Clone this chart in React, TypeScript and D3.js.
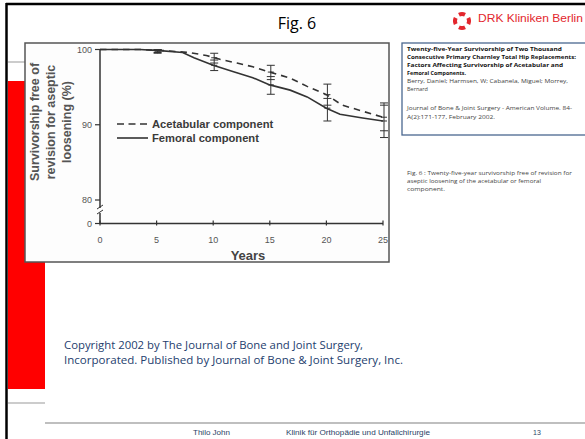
import * as d3 from 'd3';

// Kaplan-Meier style survivorship
const acetYears = [0, 3.5, 5.6, 7.9, 9.4, 10.6, 12.1, 13.5, 15, 16.8, 18.3, 20, 21.4, 23.2, 25];
const acetValues = [100, 100, 99.85, 99.6, 99.2, 98.7, 98.2, 97.7, 97.0, 96.2, 95.1, 94.0, 92.6, 91.8, 91.0];
const femYears = [0, 3.5, 5.3, 7.3, 8.3, 10, 11.8, 13.5, 15, 16.8, 18.3, 20, 21.2, 23.2, 25];
const femValues = [100, 100, 99.85, 99.6, 98.9, 97.9, 97.05, 96.25, 95.3, 94.6, 93.7, 92.2, 91.4, 90.9, 90.5];

// confidence intervals at 5-year marks
const ciYears = [5, 10, 15, 20, 25];
const acetPoint = [99.8, 98.9, 97.0, 94.0, 91.0];
const acetLow = [99.6, 98.2, 96.0, 92.6, 89.2];
const acetHigh = [100, 99.5, 97.9, 95.4, 92.9];
const femPoint = [99.8, 97.9, 95.3, 92.2, 90.5];
const femLow = [99.5, 97.2, 94.05, 90.5, 88.3];
const femHigh = [100, 98.6, 96.4, 93.5, 92.6];

const xTicks = [0, 5, 10, 15, 20, 25];
const yTicks = [100, 90, 80];
const yTitle = ['Survivorship free of', 'revision for aseptic', 'loosening (%)'];
const legendLabels = ['Acetabular component', 'Femoral component'];

const refLines = [
  { t: 'Twenty-five-Year Survivorship of Two Thousand', w: 155, bold: true },
  { t: 'Consecutive Primary Charnley Total Hip Replacements:', w: 169, bold: true },
  { t: 'Factors Affecting Survivorship of Acetabular and', w: 156, bold: true },
  { t: 'Femoral Components.', w: 59, bold: true },
  { t: 'Berry, Daniel; Harmsen, W; Cabanela, Miguel; Morrey,', w: 161, bold: false },
  { t: 'Bernard', w: 21, bold: false },
];
const journalLines = [
  { t: 'Journal of Bone & Joint Surgery - American Volume. 84-', w: 165 },
  { t: 'A(2):171-177, February 2002.', w: 88 },
];
const captionLines = [
  { t: 'Fig. 6 : Twenty-five-year survivorship free of revision for', w: 165 },
  { t: 'aseptic loosening of the acetabular or femoral', w: 134 },
  { t: 'component.', w: 38 },
];
const copyrightLines = [
  { t: 'Copyright 2002 by The Journal of Bone and Joint Surgery,', w: 299 },
  { t: 'Incorporated.  Published by Journal of Bone & Joint Surgery, Inc.', w: 339 },
];

const W = 585;
const H = 439;
const axisY = 223.5;
const chartFont = '"Liberation Sans", Arial, sans-serif';
const slideFont = '"Open Sans", "Liberation Sans", sans-serif';

export default function App() {
  const x = d3.scaleLinear().domain([0, 25]).range([100, 383]);
  const y = d3.scaleLinear().domain([80, 100]).range([200, 49.5]);

  const line = d3.line<[number, number]>()
    .x(d => x(d[0]))
    .y(d => y(d[1]));

  const acetPath = line(acetYears.map((t, i) => [t, acetValues[i]]) as [number, number][]) || '';
  const femPath = line(femYears.map((t, i) => [t, femValues[i]]) as [number, number][]) || '';

  const logoArc = d3.arc<any>().innerRadius(5).outerRadius(9);
  const logoParts = [0, 90, 180, 270].map(a => {
    const r = (a * Math.PI) / 180;
    return logoArc({ startAngle: r - 0.45, endAngle: r + 0.45 }) || '';
  });

  const ink = '#333';

  return (
    <svg width={W} height={H} style={{ position: 'absolute', left: 0, top: 0, background: '#fff' }}>
      {/* slide frame */}
      <rect x={8} y={81} width={37} height={308} fill="#ff0000" />
      <line x1={8} x2={25} y1={62} y2={62} stroke="#999" strokeWidth={1} />
      <line x1={8} x2={45} y1={403} y2={403} stroke="#999" strokeWidth={1} />
      <line x1={6.5} x2={6.5} y1={3} y2={H} stroke="#000" strokeWidth={2.5} />
      <line x1={6} x2={W} y1={4} y2={4} stroke="#000" strokeWidth={2.5} />

      <text x={297} y={29} textAnchor="middle" fontFamily={slideFont} fontSize={16} fill="#000">Fig. 6</text>

      {/* logo */}
      <g transform="translate(462,21)">
        {logoParts.map((d, i) => <path key={i} d={d} fill="#e3262d" />)}
      </g>
      <text x={478} y={22} fontFamily={chartFont} fontSize={11.5} fill="#e3262d" textLength={105} lengthAdjust="spacingAndGlyphs">DRK Kliniken Berlin</text>

      {/* chart image */}
      <rect x={25} y={43} width={364} height={219} fill="#fdfdfd" stroke="#555" strokeWidth={1.5} />
      <g fontFamily={chartFont} fill="#444">
        {yTitle.map((t, i) => (
          <text key={i} transform={`translate(${39 + i * 16},122) rotate(-90)`} textAnchor="middle"
            fontSize={12.5} fontWeight="bold" fill="#555">{t}</text>
        ))}
        {/* y axis with break */}
        <line x1={100} x2={100} y1={y(100)} y2={208} stroke={ink} strokeWidth={1.5} />
        <line x1={100} x2={100} y1={213} y2={axisY} stroke={ink} strokeWidth={1.5} />
        <line x1={97} x2={103} y1={209} y2={205} stroke={ink} strokeWidth={1} />
        <line x1={97} x2={103} y1={214} y2={210} stroke={ink} strokeWidth={1} />
        {yTicks.map(v => (
          <g key={v}>
            <line x1={95} x2={100} y1={y(v)} y2={y(v)} stroke={ink} strokeWidth={1.2} />
            <text x={92} y={y(v) + 3} textAnchor="end" fontSize={9} fill="#555">{v}</text>
          </g>
        ))}
        <line x1={95} x2={100} y1={axisY} y2={axisY} stroke={ink} strokeWidth={1.2} />
        <text x={92} y={axisY + 3} textAnchor="end" fontSize={9} fill="#555">0</text>

        {/* x axis */}
        <line x1={x(0)} x2={x(25)} y1={axisY} y2={axisY} stroke={ink} strokeWidth={1.6} />
        {xTicks.map(v => (
          <g key={v}>
            <line x1={x(v)} x2={x(v)} y1={axisY - 3} y2={axisY + 2} stroke={ink} strokeWidth={1.2} />
            <text x={x(v)} y={243} textAnchor="middle" fontSize={9} fill="#555">{v}</text>
          </g>
        ))}
        <text x={248} y={260} textAnchor="middle" fontSize={13} fontWeight="bold">Years</text>

        {/* curves */}
        <path d={acetPath} fill="none" stroke={ink} strokeWidth={1.6} strokeDasharray="6.5 5" />
        <path d={femPath} fill="none" stroke={ink} strokeWidth={1.6} />

        {/* confidence intervals */}
        {ciYears.map((t, i) => (
          <g key={t} stroke={ink} strokeWidth={1}>
            <line x1={x(t) + 1} x2={x(t) + 1} y1={y(Math.max(acetHigh[i], femHigh[i]))} y2={y(Math.min(acetLow[i], femLow[i]))} />
            {[acetLow[i], acetHigh[i], femLow[i], femHigh[i]].map((v, j) => (
              <line key={j} x1={x(t) - 3} x2={x(t) + 5} y1={y(v)} y2={y(v)} />
            ))}
            {[acetPoint[i], femPoint[i]].map((v, j) => (
              <line key={'p' + j} x1={x(t) - 2} x2={x(t) + 4} y1={y(v)} y2={y(v)} />
            ))}
          </g>
        ))}

        {/* legend */}
        <line x1={117} x2={148} y1={124} y2={124} stroke={ink} strokeWidth={1.6} strokeDasharray="7 4.5" />
        <line x1={117} x2={148} y1={138} y2={138} stroke={ink} strokeWidth={1.6} />
        <text x={152} y={128} fontSize={11.2} fontWeight="bold" fill="#3a3a3a">{legendLabels[0]}</text>
        <text x={152} y={142} fontSize={11.2} fontWeight="bold" fill="#3a3a3a">{legendLabels[1]}</text>
      </g>

      {/* reference box */}
      <rect x={402} y={43} width={190} height={92} fill="#fff" stroke="#4a6890" strokeWidth={1.3} />
      <g fontFamily={slideFont} fontSize={6} fill="#222">
        {refLines.map((l, i) => (
          <text key={i} x={407} y={51 + i * 8} fontWeight={l.bold ? 'bold' : 'normal'}
            fill={l.bold ? '#111' : '#444'} textLength={l.w} lengthAdjust="spacingAndGlyphs">{l.t}</text>
        ))}
        {journalLines.map((l, i) => (
          <text key={i} x={407} y={110 + i * 8.5} fill="#444" textLength={l.w} lengthAdjust="spacingAndGlyphs">{l.t}</text>
        ))}
        {captionLines.map((l, i) => (
          <text key={i} x={407} y={175 + i * 8} fill="#444" textLength={l.w} lengthAdjust="spacingAndGlyphs">{l.t}</text>
        ))}
      </g>

      {/* copyright */}
      <g fontFamily={slideFont} fontSize={11} fill="#24406e">
        {copyrightLines.map((l, i) => (
          <text key={i} x={64} y={349 + i * 14.5} textLength={l.w} lengthAdjust="spacingAndGlyphs">{l.t}</text>
        ))}
      </g>

      {/* footer */}
      <line x1={45} x2={W} y1={423} y2={423} stroke="#aaa" strokeWidth={1.5} />
      <g fontFamily={chartFont} fontSize={7} fill="#2a3f66">
        <text x={193} y={434.5} textLength={37} lengthAdjust="spacingAndGlyphs">Thilo John</text>
        <text x={286} y={434.5} textLength={144} lengthAdjust="spacingAndGlyphs">Klinik für Orthopädie und Unfallchirurgie</text>
        <text x={533} y={434.5}>13</text>
      </g>
    </svg>
  );
}
